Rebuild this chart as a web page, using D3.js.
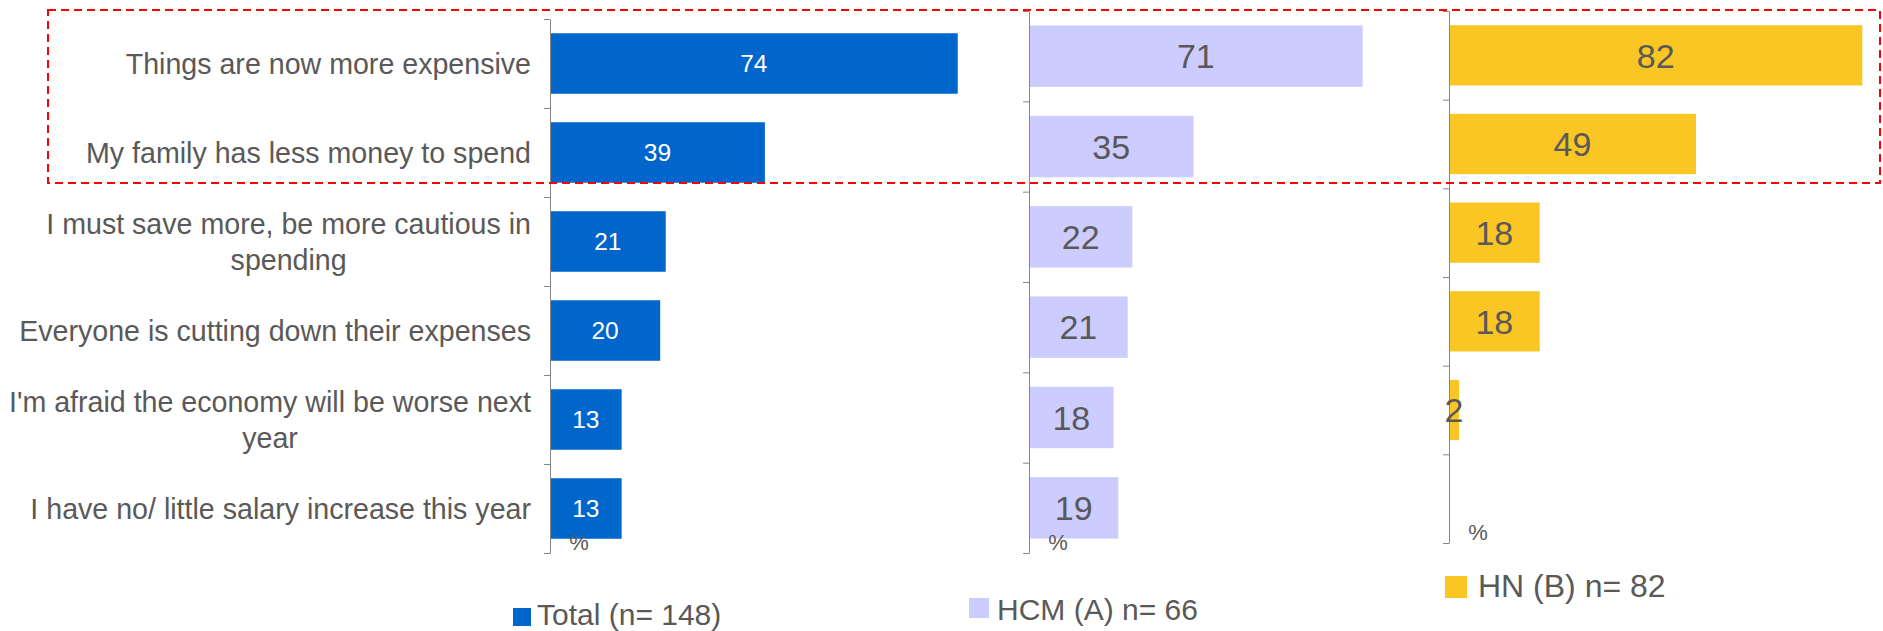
<!DOCTYPE html>
<html>
<head>
<meta charset="utf-8">
<script src="https://cdn.jsdelivr.net/npm/d3@7"></script>
<style>
  body { margin: 0; background: #fff; }
  text { font-family: "Liberation Sans", Arial, sans-serif; }
</style>
</head>
<body>
<script>
var categories = [
    "Things are now more expensive",
    "My family has less money to spend",
    "I must save more, be more cautious in\nspending",
    "Everyone is cutting down their expenses",
    "I'm afraid the economy will be worse next\nyear",
    "I have no/ little salary increase this year"
];
var totalValues = [74, 39, 21, 20, 13, 13];
var hcmValues = [71, 35, 22, 21, 18, 19];
var hnValues = [82, 49, 18, 18, 2, null];
var seriesNames = ["Total (n= 148)", "HCM (A) n= 66", "HN (B) n= 82"];
var unitLabel = "%";

var width = 1883, height = 631;
var grey = "#595959";

var svg = d3.select("body")
    .append("svg")
    .attr("width", width)
    .attr("height", height);

// one panel per series, each with its own x scale
var panels = [
    {values: totalValues, x0: 550, ppu: 5.51, top: 19, bottom: 553, fill: "#0066CC", txt: "#fff", size: 24.5,
     legend: {x: 513, y: 608, s: 18, tx: 537, ty: 625, fs: 30}},
    {values: hcmValues, x0: 1029, ppu: 4.70, top: 11, bottom: 553, fill: "#CCCCFF", txt: grey, size: 34,
     legend: {x: 969, y: 598, s: 20, tx: 997, ty: 620, fs: 30}},
    {values: hnValues, x0: 1449, ppu: 5.04, top: 11, bottom: 543, fill: "#F9C623", txt: grey, size: 34,
     legend: {x: 1445, y: 576, s: 22, tx: 1478, ty: 597, fs: 32}}
];

panels.forEach((p, i) => {
    var x = d3.scaleLinear()
        .domain([0, 100])
        .range([p.x0, p.x0 + p.ppu * 100]);

    var y = d3.scaleBand()
        .domain(categories)
        .range([p.top, p.bottom])
        .paddingInner(0.32)
        .paddingOuter(0.16);

    var g = svg.append("g");

    var rows = categories.map((c, j) => ({cat: c, v: p.values[j]}))
        .filter((d) => d.v != null);

    g.selectAll("rect")
        .data(rows)
        .enter()
        .append("rect")
        .attr("x", x(0))
        .attr("y", (d) => y(d.cat))
        .attr("width", (d) => x(d.v) - x(0))
        .attr("height", y.bandwidth())
        .attr("fill", p.fill);

    // band-boundary ticks
    var yl = d3.scaleLinear().domain([0, categories.length]).range([p.top, p.bottom]);
    var axis = g.append("g")
        .attr("transform", "translate(" + p.x0 + ",0)")
        .call(d3.axisLeft(yl).tickValues(d3.range(categories.length + 1)).tickFormat("").tickSize(6).tickSizeOuter(0));
    axis.selectAll("path, line").attr("stroke", "#868686");

    g.selectAll("text.val")
        .data(rows)
        .enter()
        .append("text")
        .attr("class", "val")
        .attr("x", (d) => (x(0) + x(d.v)) / 2)
        .attr("y", (d) => y(d.cat) + y.bandwidth() / 2 + p.size * 0.36)
        .attr("text-anchor", "middle")
        .attr("font-size", p.size + "px")
        .style("fill", p.txt)
        .text((d) => d.v);

    g.append("text")
        .attr("x", p.x0 + 29)
        .attr("y", p.bottom - 3)
        .attr("text-anchor", "middle")
        .attr("font-size", "22px")
        .style("fill", grey)
        .text(unitLabel);

    // legend
    g.append("rect")
        .attr("x", p.legend.x)
        .attr("y", p.legend.y)
        .attr("width", p.legend.s)
        .attr("height", p.legend.s)
        .attr("fill", p.fill);
    g.append("text")
        .attr("x", p.legend.tx)
        .attr("y", p.legend.ty)
        .attr("font-size", p.legend.fs + "px")
        .style("fill", grey)
        .text(seriesNames[i]);

    // category labels only on the first panel
    if (i === 0) {
        var fs = 28.6, lh = 36, right = 531;
        categories.forEach((c) => {
            var lines = c.split("\n");
            var t = g.append("text")
                .attr("font-size", fs + "px")
                .attr("text-anchor", "middle")
                .style("fill", grey);
            var cy = y(c) + y.bandwidth() / 2;
            var y0 = cy + fs * 0.35 - (lines.length - 1) * lh / 2;
            lines.forEach((l, k) => {
                t.append("tspan").attr("y", y0 + k * lh).text(l);
            });
            var maxW = 0;
            t.selectAll("tspan").each(function () {
                maxW = Math.max(maxW, this.getComputedTextLength());
            });
            t.selectAll("tspan").attr("x", right - maxW / 2);
        });
    }
});

// dashed highlight around the first two rows
svg.append("rect")
    .attr("x", 48)
    .attr("y", 10)
    .attr("width", 1832)
    .attr("height", 173)
    .attr("fill", "none")
    .attr("stroke", "#FF0000")
    .attr("stroke-width", 2)
    .attr("stroke-dasharray", "8,5");
</script>
</body>
</html>
